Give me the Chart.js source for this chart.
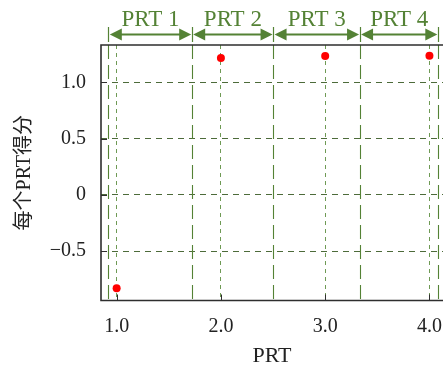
<!DOCTYPE html>
<html>
<head>
<meta charset="utf-8">
<script src="https://cdn.jsdelivr.net/npm/chart.js@4.4.0/dist/chart.umd.min.js"></script>
<style>
  html, body { margin: 0; padding: 0; background: #fff; }
  #wrap { width: 443px; height: 367px; }
</style>
</head>
<body>
<div id="wrap"><canvas id="prtChart"></canvas></div>
<script>
// данные
const prtX = [1, 2, 3, 4];
const scores = [-0.832, 1.216, 1.234, 1.236];
const xTicks = [1, 2, 3, 4];
const xTickLabels = ["1.0", "2.0", "3.0", "4.0"];
const yTicks = [-0.5, 0, 0.5, 1.0];
const yTickLabels = ["−0.5", "0", "0.5", "1.0"];
const segBounds = [0.92, 1.72, 2.5, 3.33, 4.08];
const segLabels = ["PRT 1", "PRT 2", "PRT 3", "PRT 4"];

const GREEN = "#548235";
const SERIF = "'Liberation Serif', 'Noto Sans CJK SC', serif";

// сегменты PRT: длинные штрихи внутри, стрелки и подписи сверху
const segmentsPlugin = {
  id: "segments",
  beforeDatasetsDraw(chart) {
    const { ctx, chartArea: a, scales: { x } } = chart;
    ctx.save();
    ctx.strokeStyle = GREEN;
    ctx.lineWidth = 1.1;
    ctx.setLineDash([14, 6]);
    segBounds.forEach((b) => {
      const px = Math.round(x.getPixelForValue(b)) + 0.5;
      ctx.beginPath();
      ctx.moveTo(px, a.top);
      ctx.lineTo(px, a.bottom);
      ctx.stroke();
    });
    ctx.restore();
  },
  afterDraw(chart) {
    const { ctx, chartArea: a, scales: { x, y } } = chart;
    ctx.save();
    // рамка
    ctx.strokeStyle = "#2e2e2e";
    ctx.lineWidth = 1.6;
    ctx.beginPath();
    ctx.moveTo(chart.width + 2, a.top);
    ctx.lineTo(a.left, a.top);
    ctx.lineTo(a.left, a.bottom);
    ctx.lineTo(chart.width + 2, a.bottom);
    ctx.stroke();
    // засечки внутрь
    ctx.lineWidth = 1;
    yTicks.forEach((v) => {
      const py = Math.round(y.getPixelForValue(v)) + 0.5;
      ctx.beginPath();
      ctx.moveTo(a.left, py);
      ctx.lineTo(a.left + 6, py);
      ctx.stroke();
    });
    xTicks.forEach((v) => {
      const px = Math.round(x.getPixelForValue(v)) + 0.5;
      ctx.beginPath();
      ctx.moveTo(px, a.bottom);
      ctx.lineTo(px, a.bottom - 6);
      ctx.stroke();
    });
    // стрелки
    const arrowY = 34.5;
    ctx.strokeStyle = GREEN;
    ctx.fillStyle = GREEN;
    ctx.lineWidth = 1.2;
    segBounds.forEach((b) => {
      const px = Math.round(x.getPixelForValue(b)) + 0.5;
      ctx.beginPath();
      ctx.moveTo(px, 27);
      ctx.lineTo(px, 42);
      ctx.stroke();
    });
    ctx.lineWidth = 2;
    ctx.font = "23px " + SERIF;
    ctx.textAlign = "center";
    ctx.textBaseline = "alphabetic";
    for (let i = 0; i < segLabels.length; i++) {
      const x1 = x.getPixelForValue(segBounds[i]) + 1.5;
      const x2 = x.getPixelForValue(segBounds[i + 1]) - 0.5;
      const head = 12;
      ctx.beginPath();
      ctx.moveTo(x1 + head - 2, arrowY);
      ctx.lineTo(x2 - head + 2, arrowY);
      ctx.stroke();
      ctx.beginPath();
      ctx.moveTo(x1, arrowY);
      ctx.lineTo(x1 + head, arrowY - 6);
      ctx.lineTo(x1 + head, arrowY + 6);
      ctx.closePath();
      ctx.fill();
      ctx.beginPath();
      ctx.moveTo(x2, arrowY);
      ctx.lineTo(x2 - head, arrowY - 6);
      ctx.lineTo(x2 - head, arrowY + 6);
      ctx.closePath();
      ctx.fill();
      ctx.fillText(segLabels[i], (x1 + x2) / 2, 25.5);
    }
    ctx.restore();
  },
};

new Chart(document.getElementById("prtChart"), {
  type: "scatter",
  data: {
    datasets: [
      {
        data: prtX.map((v, i) => ({ x: v, y: scores[i] })),
        backgroundColor: "#ff0000",
        borderWidth: 0,
        pointRadius: 4,
        clip: false,
      },
    ],
  },
  options: {
    responsive: true,
    maintainAspectRatio: false,
    animation: false,
    events: [],
    layout: { autoPadding: false, padding: { top: 45, left: 0, right: 0, bottom: 0 } },
    plugins: { legend: { display: false }, tooltip: { enabled: false } },
    scales: {
      x: {
        type: "linear",
        min: 0.85,
        max: 4.13,
        afterBuildTicks: (s) => { s.ticks = xTicks.map((v) => ({ value: v })); },
        afterFit: (s) => { s.height = 66.5; s.paddingLeft = 0; s.paddingRight = 0; },
        grid: { color: "#6f9a55", lineWidth: 1, drawTicks: false },
        border: { display: false, dash: [4, 4] },
        ticks: {
          padding: 14,
          color: "#222",
          font: { family: SERIF, size: 20 },
          maxRotation: 0,
          callback: (v) => xTickLabels[xTicks.indexOf(v)] ?? "",
        },
        title: {
          display: true,
          text: "PRT",
          color: "#222",
          font: { family: SERIF, size: 22 },
          padding: { top: 0, bottom: -2 },
        },
      },
      y: {
        min: -0.94,
        max: 1.332,
        afterBuildTicks: (s) => { s.ticks = yTicks.map((v) => ({ value: v })); },
        afterFit: (s) => { s.width = 101; s.paddingTop = 0; s.paddingBottom = 0; },
        grid: { color: "#4d6b3a", lineWidth: 1, drawTicks: false },
        border: { display: false, dash: [6, 5] },
        ticks: {
          padding: 15,
          color: "#222",
          font: { family: SERIF, size: 20 },
          callback: (v) => yTickLabels[yTicks.indexOf(v)] ?? "",
        },
        title: {
          display: true,
          text: "每个PRT得分",
          color: "#222",
          font: { family: SERIF, size: 20 },
          padding: { top: 13, bottom: 0 },
        },
      },
    },
  },
  plugins: [segmentsPlugin],
});
</script>
</body>
</html>
